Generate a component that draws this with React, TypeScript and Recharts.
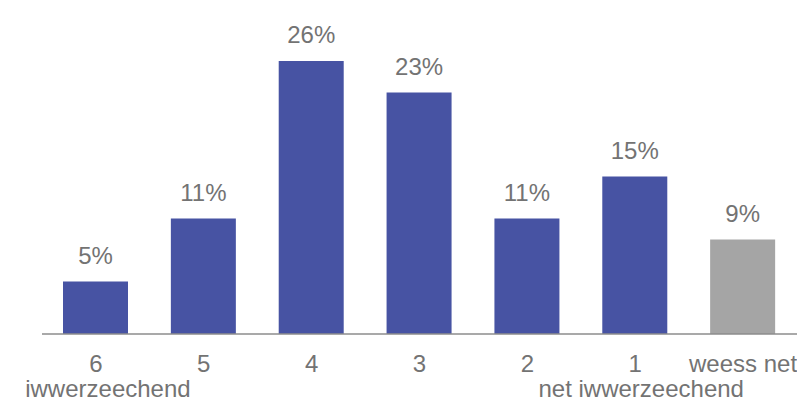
import { BarChart, Bar, XAxis, YAxis, Cell, LabelList } from "recharts";

const categories = ["6", "5", "4", "3", "2", "1", "weess net"];
const shares = [5, 11, 26, 23, 11, 15, 9];
const subLabels: Record<string, string> = {
  "6": "iwwerzeechend",
  "1": "net iwwerzeechend",
};

const BLUE = "#4753A3";
const GREY = "#A5A5A5";
const TEXT = "#737373";
const FONT = "'Liberation Sans', Arial, sans-serif";

const data = categories.map((c, i) => ({ name: c, value: shares[i] }));

function Tick({ x, y, payload }: any) {
  const sub = subLabels[payload.value];
  return (
    <g>
      <text x={x} y={y} dy={30} textAnchor="middle" fill={TEXT} fontSize={24} fontFamily={FONT}>
        {payload.value}
      </text>
      {sub && (
        <text
          x={x}
          y={y}
          dx={payload.value === "6" ? 12 : 6}
          dy={55}
          textAnchor="middle"
          fill={TEXT}
          fontSize={24}
          fontFamily={FONT}
        >
          {sub}
        </text>
      )}
    </g>
  );
}

export default function App() {
  return (
    <div style={{ position: "absolute", left: 0, top: 0 }}>
      <BarChart
        width={797}
        height={404}
        data={data}
        margin={{ top: 19, right: 0, left: 42, bottom: 0 }}
      >
        <XAxis
          dataKey="name"
          tickLine={false}
          axisLine={{ stroke: "#8C8C8C", strokeWidth: 1.5 }}
          tick={<Tick />}
          interval={0}
          height={70}
        />
        <YAxis hide domain={[0, 30]} />
        <Bar dataKey="value" barSize={65} isAnimationActive={false}>
          {data.map((d, i) => (
            <Cell key={d.name} fill={i === data.length - 1 ? GREY : BLUE} />
          ))}
          <LabelList
            dataKey="value"
            position="top"
            offset={18}
            formatter={(v: any) => `${v}%`}
            fill={TEXT}
            fontSize={24}
            fontFamily={FONT}
          />
        </Bar>
      </BarChart>
    </div>
  );
}
